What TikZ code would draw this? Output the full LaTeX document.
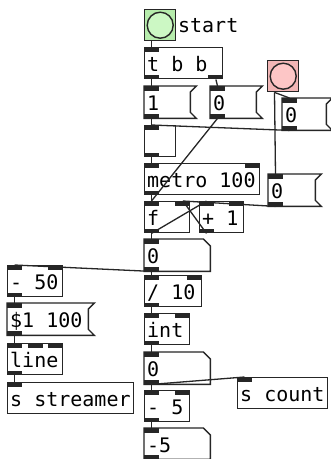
\documentclass[tikz,border=0pt]{standalone}
\usepackage{fontspec}
\newfontfamily\pdfont{DejaVu Sans Mono}
\newcommand{\pdtext}{\pdfont\fontsize{20}{20}\selectfont}
\newcommand{\pdspace}{\spaceskip=0.602em\relax}
\usetikzlibrary{positioning}
\definecolor{bngbox}{RGB}{182,236,172}
\definecolor{bngdot}{RGB}{204,248,196}
\definecolor{stopbox}{RGB}{242,182,182}
\definecolor{stopdot}{RGB}{253,198,198}

\begin{document}
\begin{tikzpicture}[x=1pt, y=-1pt,
    box/.style={anchor=north west, line width=1.4pt, inner xsep=2.5pt, inner ysep=0pt, minimum height=31pt, text height=17pt, text depth=0pt, font=\pdtext, execute at begin node=\pdspace},
    object/.style={box, draw=black!85},
    message/.style={box},
    number/.style={box},
    bang/.style={draw=black!85, line width=1.4pt, anchor=north west, minimum size=31pt, inner sep=0pt},
    outline/.style={draw=black!85, line width=1.4pt, line join=miter},
    wire/.style={draw=black!85, line width=1.3pt}
]
    \fill[white] (0,0) rectangle (331,459);
    \useasboundingbox (0,0) rectangle (331,459);

    % Start and stop
    \node[bang, fill=bngbox] (start) at (144,9) {};
    \draw[outline, fill=bngdot] (start.center) circle (13pt);
    \node[box, inner xsep=0pt, anchor=base west] (startlbl) at ([xshift=1pt,yshift=-7pt]start.east) {start};
    \node[bang, fill=stopbox] (stop) at (267,60) {};
    \draw[outline, fill=stopdot] (stop.center) circle (13pt);

    % Control chain
    \node[object, text width=73pt] (tbb) at (144,47) {t b b};
    \node[message, text width=40pt] (on) at (144,86) {1};
    \node[message, text width=40pt] (zero) at (210,86) {0};
    \node[message, text width=38pt] (halt) at (282,98) {0};
    \node[object, minimum size=31pt, text width=26pt] (toggle) at (144,125) {};
    \node[object, text width=110pt] (metro) at (144,163) {metro 100};
    \node[message, text width=41pt] (reset) at (268,174) {0};

    % Counter
    \node[object, text width=40pt] (f) at (144,201) {f};
    \node[object, text width=39pt] (plus) at (199,201) {+ 1};
    \node[number, text width=60pt] (value) at (144,239) {0};

    % Streamer branch
    \node[object, text width=50pt] (sub) at (7,265) {- 50};
    \node[message, text width=75pt] (ramp) at (7,303) {\$1 100};
    \node[object, text width=50pt] (line) at (7,343) {line};
    \node[object, text width=121pt] (streamer) at (7,382) {s streamer};

    % Count branch
    \node[object, text width=52pt] (div) at (144,275) {/ 10};
    \node[object, text width=40pt] (int) at (144,313) {int};
    \node[number, text width=60pt] (index) at (144,352) {0};
    \node[object, text width=85pt] (send) at (237,377) {s count};
    \node[object, text width=40pt] (minus) at (144,390) {- 5};
    \node[number, text width=60pt, minimum height=30pt] (result) at (144,428) {-5};

    % Outlines
    \foreach \m in {on,zero,halt,reset,ramp}
        \draw[outline] (\m.north west) -- ([xshift=6pt]\m.north east) -- ([yshift=-6pt]\m.north east)
            -- ([yshift=6pt]\m.south east) -- ([xshift=6pt]\m.south east) -- (\m.south west) -- cycle;
    \foreach \m in {value,index,result}
        \draw[outline] (\m.north west) -- ([xshift=-7pt]\m.north east) -- ([yshift=-7pt]\m.north east)
            -- (\m.south east) -- (\m.south west) -- cycle;

    % Inlets and outlets
    \foreach \n in {tbb,on,zero,halt,toggle,metro,reset,f,plus,value,sub,ramp,line,streamer,div,int,index,send,minus,result}
        \fill[black!85] (\n.north west) rectangle ++(15pt,-4.5pt);
    \foreach \n in {tbb,on,zero,halt,toggle,metro,reset,f,plus,value,sub,ramp,line,div,int,index,minus,result}
        \fill[black!85] (\n.south west) rectangle ++(15pt,4.5pt);
    \foreach \n in {metro,f,plus,sub,line,div,int,minus}
        \fill[black!85] (\n.north east) rectangle ++(-15pt,-4.5pt);
    \fill[black!85] (tbb.south east) rectangle ++(-15pt,4.5pt);
    \fill[black!85] ([xshift=-7.5pt]line.north) rectangle ++(15pt,-4.5pt);

    % Connections
    \draw[wire] ([xshift=7.5pt]start.south west) -- ([xshift=7.5pt]tbb.north west);
    \draw[wire] ([xshift=7.5pt]tbb.south west) -- ([xshift=7.5pt]on.north west);
    \draw[wire] ([xshift=-7.5pt]tbb.south east) -- ([xshift=7.5pt]zero.north west);
    \draw[wire] ([xshift=7.5pt]on.south west) -- ([xshift=7.5pt]toggle.north west);
    \draw[wire] ([xshift=7.5pt]stop.south west) -- ([xshift=7.5pt]halt.north west);
    \draw[wire] ([xshift=7.5pt]stop.south west) -- ([xshift=7.5pt]reset.north west);
    \draw[wire] ([xshift=7.5pt]halt.south west) -- ([xshift=7.5pt]toggle.north west);
    \draw[wire] ([xshift=7.5pt]toggle.south west) -- ([xshift=7.5pt]metro.north west);
    \draw[wire] ([xshift=7.5pt]zero.south west) -- ([xshift=7.5pt]f.north west);
    \draw[wire] ([xshift=7.5pt]metro.south west) -- ([xshift=7.5pt]f.north west);
    \draw[wire] ([xshift=7.5pt]reset.south west) -- ([xshift=-7.5pt]f.north east);
    \draw[wire] ([xshift=7.5pt]f.south west) -- ([xshift=7.5pt]plus.north west);
    \draw[wire] ([xshift=7.5pt]plus.south west) -- ([xshift=-7.5pt]f.north east);
    \draw[wire] ([xshift=7.5pt]f.south west) -- ([xshift=7.5pt]value.north west);
    \draw[wire] ([xshift=7.5pt]value.south west) -- ([xshift=7.5pt]sub.north west);
    \draw[wire] ([xshift=7.5pt]value.south west) -- ([xshift=7.5pt]div.north west);
    \draw[wire] ([xshift=7.5pt]sub.south west) -- ([xshift=7.5pt]ramp.north west);
    \draw[wire] ([xshift=7.5pt]ramp.south west) -- ([xshift=7.5pt]line.north west);
    \draw[wire] ([xshift=7.5pt]line.south west) -- ([xshift=7.5pt]streamer.north west);
    \draw[wire] ([xshift=7.5pt]div.south west) -- ([xshift=7.5pt]int.north west);
    \draw[wire] ([xshift=7.5pt]int.south west) -- ([xshift=7.5pt]index.north west);
    \draw[wire] ([xshift=7.5pt]index.south west) -- ([xshift=7.5pt]send.north west);
    \draw[wire] ([xshift=7.5pt]index.south west) -- ([xshift=7.5pt]minus.north west);
    \draw[wire] ([xshift=7.5pt]minus.south west) -- ([xshift=7.5pt]result.north west);
\end{tikzpicture}
\end{document}
